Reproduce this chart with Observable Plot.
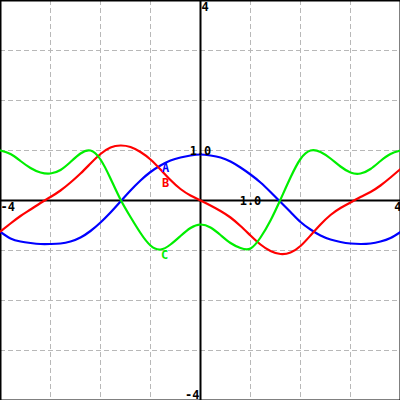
<!DOCTYPE html>
<html>
<head>
<meta charset="utf-8">
<script src="https://cdn.jsdelivr.net/npm/d3@7"></script>
<script src="https://cdn.jsdelivr.net/npm/@observablehq/plot@0.6"></script>
<style>
  html, body { margin: 0; padding: 0; background: #fff; }
  #chart svg { display: block; }
</style>
</head>
<body>
<div id="chart"></div>
<script>
const xs = [-4.0,-3.8,-3.6,-3.4,-3.2,-3.0,-2.8,-2.6,-2.4,-2.2,-2.0,-1.8,-1.6,-1.4,-1.2,-1.0,-0.8,-0.6,-0.4,-0.2,0.0,
            0.2,0.4,0.6,0.8,1.0,1.2,1.4,1.6,1.8,2.0,2.2,2.4,2.6,2.8,3.0,3.2,3.4,3.6,3.8,4.0];
const seriesA = [-0.63,-0.76,-0.82,-0.85,-0.87,-0.87,-0.86,-0.82,-0.74,-0.61,-0.44,-0.24,-0.02,0.20,0.40,0.57,0.70,0.80,0.86,0.90,0.92,
                 0.90,0.86,0.78,0.66,0.52,0.36,0.17,-0.03,-0.23,-0.43,-0.58,-0.70,-0.78,-0.83,-0.86,-0.87,-0.86,-0.82,-0.75,-0.63];
const seriesB = [-0.62,-0.46,-0.31,-0.18,-0.05,0.07,0.20,0.36,0.54,0.74,0.93,1.06,1.10,1.07,0.97,0.82,0.62,0.41,0.23,0.10,0.00,
                 -0.10,-0.21,-0.34,-0.51,-0.70,-0.88,-1.01,-1.07,-1.04,-0.91,-0.70,-0.48,-0.29,-0.15,-0.04,0.07,0.17,0.30,0.46,0.63];
const seriesC = [1.00,0.93,0.79,0.65,0.56,0.54,0.61,0.77,0.94,1.00,0.82,0.44,0.02,-0.33,-0.65,-0.90,-0.98,-0.88,-0.71,-0.55,-0.48,
                 -0.54,-0.69,-0.85,-0.95,-0.96,-0.74,-0.40,0.02,0.46,0.83,1.00,0.97,0.84,0.68,0.56,0.54,0.63,0.79,0.93,1.00];
const seriesNames = ["A", "B", "C"];
const gridTicks = [-3, -2, -1, 1, 2, 3];
const axisLabels = ["4", "-4", "-4", "4", "1.0", "1.0"];

const colors = {A: "#0000ff", B: "#ff0000", C: "#00ee00"};
const rows = [];
[seriesA, seriesB, seriesC].forEach((s, k) => {
  s.forEach((v, i) => rows.push({series: seriesNames[k], x: xs[i], y: v}));
});

const font = "DejaVu Sans Mono";
const txt = (label, x, y, opts) => Plot.text([label], {x: () => x, y: () => y, text: d => d,
  fontFamily: font, fontWeight: "bold", fontSize: 12, fill: "#000", ...opts});

const chart = Plot.plot({
  width: 400, height: 400,
  margin: 0,
  x: {domain: [-4, 4], axis: null},
  y: {domain: [-4, 4], axis: null},
  style: {background: "#fff"},
  marks: [
    Plot.ruleX(gridTicks, {stroke: "#b8b8b8", strokeDasharray: "5,3", strokeWidth: 1}),
    Plot.ruleY(gridTicks, {stroke: "#b8b8b8", strokeDasharray: "5,3", strokeWidth: 1}),
    Plot.ruleX([0], {stroke: "#000", strokeWidth: 2}),
    Plot.ruleY([0], {stroke: "#000", strokeWidth: 2}),
    Plot.frame({stroke: "#000", strokeWidth: 2}),
    ...seriesNames.map(name => Plot.line(rows.filter(r => r.series === name), {
      x: "x", y: "y", stroke: colors[name], strokeWidth: 2.2, curve: "natural"
    })),
    txt(axisLabels[0], 0, 4, {textAnchor: "start", lineAnchor: "top", dx: 1, dy: 2}),
    txt(axisLabels[1], 0, -4, {textAnchor: "end", lineAnchor: "bottom", dx: -1, dy: -2}),
    txt(axisLabels[2], -4, 0, {textAnchor: "start", lineAnchor: "top", dy: 2}),
    txt(axisLabels[3], 4, 0, {textAnchor: "end", lineAnchor: "top", dx: 1, dy: 2}),
    txt(axisLabels[4], 1, 0, {textAnchor: "middle", lineAnchor: "middle", dy: 1}),
    txt(axisLabels[5], 0, 1, {textAnchor: "middle", lineAnchor: "middle", dy: 1}),
    txt(seriesNames[0], -0.7, 0.64, {fill: colors.A}),
    txt(seriesNames[1], -0.7, 0.35, {fill: colors.B}),
    txt(seriesNames[2], -0.72, -1.1, {fill: colors.C})
  ]
});
document.getElementById("chart").appendChild(chart);
</script>
</body>
</html>
